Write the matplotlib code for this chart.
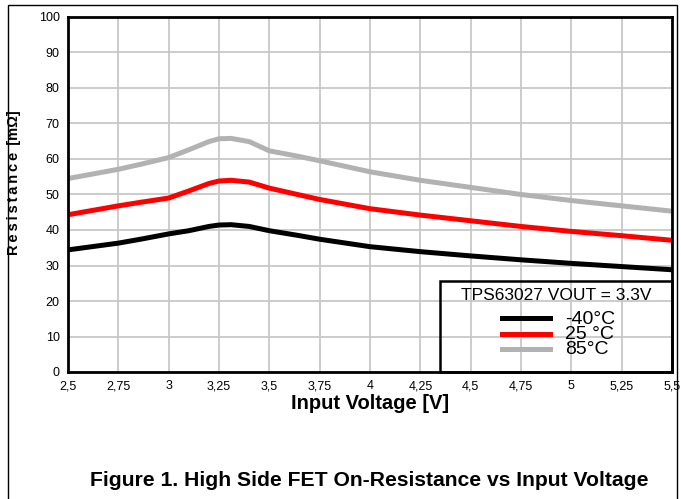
import matplotlib.pyplot as plt
from matplotlib.lines import Line2D
from matplotlib.patches import Rectangle

vin = [2.5, 2.75, 2.86, 3.0, 3.1, 3.2, 3.25, 3.31, 3.4, 3.5, 3.64, 3.75,
       4.0, 4.25, 4.5, 4.75, 5.0, 5.25, 5.5]
r_m40 = [34.4, 36.3, 37.4, 38.9, 39.8, 41.0, 41.4, 41.5, 41.0, 39.8, 38.5, 37.4,
         35.3, 33.9, 32.7, 31.6, 30.6, 29.7, 28.8]
r_25 = [44.3, 46.8, 47.8, 49.0, 51.0, 53.1, 53.8, 54.0, 53.5, 51.8, 50.0, 48.6,
        46.0, 44.2, 42.6, 41.0, 39.6, 38.4, 37.1]
r_85 = [54.5, 57.1, 58.5, 60.4, 62.6, 64.9, 65.7, 65.8, 64.9, 62.3, 60.8, 59.5,
        56.4, 54.0, 52.0, 50.0, 48.3, 46.8, 45.3]

labels = ["-40°C", "25 °C", "85°C"]
colors = ["black", "#ff0000", "#b2b2b2"]
xticks = [2.5, 2.75, 3, 3.25, 3.5, 3.75, 4, 4.25, 4.5, 4.75, 5, 5.25, 5.5]
xticklabels = [str(t).replace(".", ",") for t in xticks]

plt.rcParams["font.family"] = ["Liberation Sans", "DejaVu Sans"]

W, H = 681, 499
fig = plt.figure(figsize=(6.81, 4.99), dpi=100)
ax = fig.add_axes([68 / W, 1 - 372 / H, 604 / W, 355 / H])


def px(x, y):
    # pixel position (from top-left) -> figure fraction
    return x / W, 1 - y / H


for y, c in zip([r_m40, r_25, r_85], colors):
    ax.plot(vin, y, color=c, lw=3.6, solid_capstyle="butt", solid_joinstyle="round")

ax.set_xlim(2.5, 5.5)
ax.set_ylim(0, 100)
ax.set_xticks(xticks)
ax.set_xticklabels(xticklabels)
ax.set_yticks(range(0, 101, 10))
ax.tick_params(length=0, labelsize=9, pad=6)
ax.grid(color="#c8c8c8", lw=1.3)
for s in ax.spines.values():
    s.set_linewidth(2)
    s.set_color("black")

ax.set_xlabel("Input Voltage [V]", fontsize=14.5, fontweight="bold", labelpad=1)

fig.text(*px(14, 183), "R\u2009e\u2009s\u2009i\u2009s\u2009t\u2009a\u2009n\u2009c\u2009e\u2009 [mΩ]",
         rotation=90, ha="center", va="center", fontsize=10.5, fontweight="bold")

# legend box drawn by hand to get the tight line spacing
fig.patches.append(Rectangle(px(440, 372), 232 / W, 91 / H, transform=fig.transFigure,
                             fill=False, lw=1.8, ec="black", zorder=5))
fig.text(*px(556, 296), "TPS63027 VOUT = 3.3V", ha="center", va="center", fontsize=12.5)
for i, (c, l) in enumerate(zip(colors, labels)):
    yy = 318 + 15.5 * i
    x0, y0 = px(502, yy)
    x1, _ = px(550, yy)
    fig.lines.append(Line2D([x0, x1], [y0, y0], transform=fig.transFigure, color=c, lw=3.6))
    fig.text(*px(565, yy + 1), l, ha="left", va="center", fontsize=14)

fig.text(*px(369.5, 480), "Figure 1. High Side FET On-Resistance vs Input Voltage",
         ha="center", va="center", fontsize=15.2, fontweight="bold")

fig.patches.append(Rectangle((8 / W, -0.1), 669 / W, 1.1 - 5 / H,
                             transform=fig.transFigure, fill=False, lw=1, ec="black"))

fig.savefig("out.png", dpi=100)
